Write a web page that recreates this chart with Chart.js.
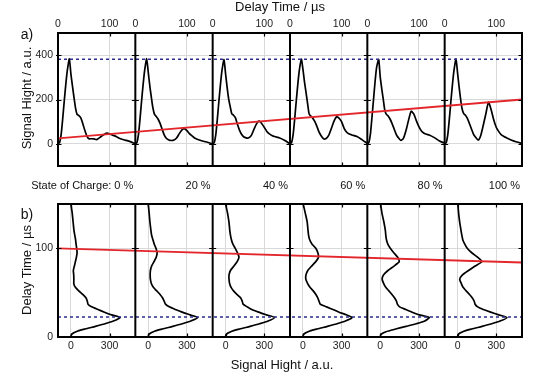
<!DOCTYPE html>
<html><head><meta charset="utf-8">
<script src="https://cdn.jsdelivr.net/npm/chart.js@4.4.1/dist/chart.umd.min.js"></script>
<style>
html,body{margin:0;padding:0;background:#fff;}
body{width:550px;height:378px;position:relative;overflow:hidden;font-family:"Liberation Sans",Arial,sans-serif;color:#111;}
canvas{position:absolute;left:0;}
.lbl{position:absolute;white-space:nowrap;line-height:1;}
.c{transform:translate(-50%,-50%);}
.r{transform:translate(-100%,-50%);}
.rot{transform:translate(-50%,-50%) rotate(-90deg);}
</style></head><body>
<canvas id="top" width="550" height="185" style="top:0"></canvas>
<canvas id="bot" width="550" height="193" style="top:185px"></canvas>
<div id="labels"></div>
<script>
// ---- data ----
const delayTime = [0,3,6,9,12,15,18,22,25,28, 31,34,37,40,44,48,52,56,60,65, 70,75,80,85,90,95,100,105,110,115, 120,130,140,150];
const signal0   = [0,5,40,110,190,265,330,383,316,261, 210,161,133,128,118,92,61,35,23,23, 22,19,27,35,43,48,45,40,36,30, 24,17,10,0];
const signal20  = [0,5,40,110,190,265,330,384,324,263, 211,163,134,125,112,92,66,40,25,17, 15,17,26,45,62,69,60,46,36,26, 21,13,7,0];
const signal40  = [0,5,40,110,190,265,330,380,317,256, 203,168,136,130,118,88,62,43,32,27, 27,38,65,90,104,92,75,56,45,38, 33,26,15,0];
const signal60  = [0,5,40,110,190,265,330,382,338,281, 233,184,135,126,116,101,80,55,38,23, 24,38,68,100,121,116,100,70,52,44, 40,33,18,2];
const signal80  = [0,6,45,120,200,280,345,380,302,248, 199,150,133,127,112,91,67,43,28,15, 25,60,107,147,135,105,78,58,48,43, 40,28,13,3];
const signal100 = [0,5,40,110,190,265,330,383,320,257, 200,156,136,130,115,92,67,43,30,17, 38,85,137,188,155,110,75,55,40,33, 27,16,8,2];
const socLabels = ['0 %','20 %','40 %','60 %','80 %','100 %'];
const timeTickValues = [0, 100];
const heightTickValues = [0, 200, 400];
const signalTickValues = [0, 300];
const delayTickValues = [0, 100];
const trendTop = [25, 200];      // red line, panel a), left/right ends
const trendBottom = [100, 84];   // red line, panel b), left/right ends
const peakHeight = [382];
const peakDelay = [22.6];

// ---- axis ranges ----
const N = 6;
const TIME_SPAN = 150;
const SIG_MIN = -100, SIG_SPAN = 600;
const series = [signal0, signal20, signal40, signal60, signal80, signal100];
const FONT = '"Liberation Sans", Arial, sans-serif';
const GRID = '#d9d9d9';
const RED = '#e3262b';
const BLUE = '#2b2b8e';
const TICKFONT = {size: 10.5, family: FONT};

function framePlugin(o) {
  return {
    id: 'frame',
    afterDatasetsDraw(chart) {
      const {ctx, chartArea: a, scales: {x, y}} = chart;
      ctx.save();
      ctx.strokeStyle = '#000';
      ctx.lineWidth = 1.2;
      const L = 3.5;
      ctx.beginPath();
      o.hTicks.forEach(v => {
        const py = Math.round(y.getPixelForValue(v)) + 0.5;
        ctx.moveTo(a.left - 2, py); ctx.lineTo(a.left + L, py);
        ctx.moveTo(a.right, py); ctx.lineTo(a.right - L, py);
        o.seps.forEach(s => { const px = x.getPixelForValue(s); ctx.moveTo(px - L, py); ctx.lineTo(px + L, py); });
      });
      o.vTicks.forEach(v => {
        const px = Math.round(x.getPixelForValue(v)) + 0.5;
        ctx.moveTo(px, a.top); ctx.lineTo(px, a.top + L);
        ctx.moveTo(px, a.bottom); ctx.lineTo(px, a.bottom - L);
      });
      ctx.stroke();
      ctx.lineWidth = 2;
      ctx.beginPath();
      o.seps.forEach(s => { const px = x.getPixelForValue(s); ctx.moveTo(px, a.top); ctx.lineTo(px, a.bottom); });
      ctx.stroke();
      ctx.strokeRect(a.left, a.top, a.right - a.left, a.bottom - a.top);
      ctx.restore();
    }
  };
}

const base = {
  responsive: false, animation: false, devicePixelRatio: 1,
  plugins: {legend: {display: false}, tooltip: {enabled: false}},
  elements: {point: {radius: 0}},
};

// ---- panel a) ----
const topTicks = [];
for (let i = 0; i < N; i++) timeTickValues.forEach(v => topTicks.push(i * TIME_SPAN + v));
const topSeps = [];
for (let i = 1; i < N; i++) topSeps.push(i * TIME_SPAN);

const chartTop = new Chart(document.getElementById('top'), {
  type: 'scatter',
  data: {datasets: [
    {data: [{x: 0, y: trendTop[0]}, {x: N * TIME_SPAN, y: trendTop[1]}], borderColor: RED, borderWidth: 1.8, showLine: true},
    {data: [{x: 0, y: peakHeight[0]}, {x: N * TIME_SPAN, y: peakHeight[0]}], borderColor: BLUE, borderWidth: 1.5, borderDash: [3, 3], showLine: true},
    ...series.map((s, i) => ({data: delayTime.map((t, k) => ({x: t + i * TIME_SPAN, y: s[k]})), borderColor: '#000', borderWidth: 1.7, tension: 0.2, showLine: true}))
  ]},
  options: Object.assign({}, base, {
    layout: {padding: {left: 0, right: 28, top: 0, bottom: 19}},
    scales: {
      x: {type: 'linear', position: 'top', min: 0, max: N * TIME_SPAN,
        afterBuildTicks: s => { s.ticks = topTicks.map(v => ({value: v})); },
        afterFit: s => { s.height = 33; },
        ticks: {callback: v => String(v % TIME_SPAN), font: TICKFONT, color: '#222', padding: 3, maxRotation: 0, autoSkip: false},
        grid: {drawTicks: false, color: c => (c.tick && c.tick.value % TIME_SPAN === 0) ? 'rgba(0,0,0,0)' : GRID, lineWidth: 1},
        border: {display: false}},
      y: {type: 'linear', min: -100, max: 500,
        afterBuildTicks: s => { s.ticks = heightTickValues.map(v => ({value: v})); },
        afterFit: s => { s.width = 58; },
        ticks: {font: TICKFONT, color: '#222', padding: 5},
        grid: {drawTicks: false, color: GRID, lineWidth: 1},
        border: {display: false}}
    }
  }),
  plugins: [framePlugin({hTicks: heightTickValues, seps: topSeps, vTicks: topTicks.filter(v => v % TIME_SPAN !== 0)})]
});

// ---- panel b) ----
const botTicks = [];
for (let i = 0; i < N; i++) signalTickValues.forEach(v => botTicks.push(i * SIG_SPAN + v));
const botSeps = [];
for (let i = 1; i < N; i++) botSeps.push(SIG_MIN + i * SIG_SPAN);
const SIG_MAX = SIG_MIN + N * SIG_SPAN;

const chartBot = new Chart(document.getElementById('bot'), {
  type: 'scatter',
  data: {datasets: [
    {data: [{x: SIG_MIN, y: trendBottom[0]}, {x: SIG_MAX, y: trendBottom[1]}], borderColor: RED, borderWidth: 1.8, showLine: true},
    {data: [{x: SIG_MIN, y: peakDelay[0]}, {x: SIG_MAX, y: peakDelay[0]}], borderColor: BLUE, borderWidth: 1.5, borderDash: [3, 3], showLine: true},
    ...series.map((s, i) => ({data: delayTime.map((t, k) => ({x: s[k] + i * SIG_SPAN, y: t})), borderColor: '#000', borderWidth: 1.7, tension: 0.2, showLine: true}))
  ]},
  options: Object.assign({}, base, {
    layout: {padding: {left: 0, right: 28, top: 19, bottom: 21}},
    scales: {
      x: {type: 'linear', position: 'bottom', min: SIG_MIN, max: SIG_MAX,
        afterBuildTicks: s => { s.ticks = botTicks.map(v => ({value: v})); },
        afterFit: s => { s.height = 20; },
        ticks: {callback: v => String(((v % SIG_SPAN) + SIG_SPAN) % SIG_SPAN), font: TICKFONT, color: '#222', padding: 3, maxRotation: 0, autoSkip: false},
        grid: {drawTicks: false, color: GRID, lineWidth: 1},
        border: {display: false}},
      y: {type: 'linear', min: 0, max: 150,
        afterBuildTicks: s => { s.ticks = delayTickValues.map(v => ({value: v})); },
        afterFit: s => { s.width = 58; },
        ticks: {font: TICKFONT, color: '#222', padding: 5},
        grid: {drawTicks: false, color: c => (c.tick && c.tick.value === 0) ? 'rgba(0,0,0,0)' : GRID, lineWidth: 1},
        border: {display: false}}
    }
  }),
  plugins: [framePlugin({hTicks: delayTickValues.filter(v => v !== 0), seps: botSeps, vTicks: botTicks})]
});

// ---- text labels ----
const host = document.getElementById('labels');
function addLabel(text, x, y, cls, size) {
  const d = document.createElement('div');
  d.className = 'lbl ' + cls;
  d.style.left = x + 'px'; d.style.top = y + 'px'; d.style.fontSize = size + 'px';
  d.textContent = text;
  host.appendChild(d);
}
const ta = chartTop.chartArea;
addLabel('Delay Time / µs', 280, 5.5, 'c', 13);
addLabel('a)', 27, 34, 'c', 14);
addLabel('Signal Hight / a.u.', 26, 97.5, 'rot', 13);
socLabels.forEach((s, i) => {
  const xr = chartTop.scales.x.getPixelForValue((i + 1) * TIME_SPAN) - 2;
  addLabel(i === 0 ? 'State of Charge: ' + s : s, xr, 185, 'r', 11);
});
addLabel('b)', 27, 213.5, 'c', 14);
addLabel('Delay Time / µs', 26, 270, 'rot', 13);
addLabel('Signal Hight / a.u.', 282, 363.5, 'c', 13);
</script>
</body></html>
